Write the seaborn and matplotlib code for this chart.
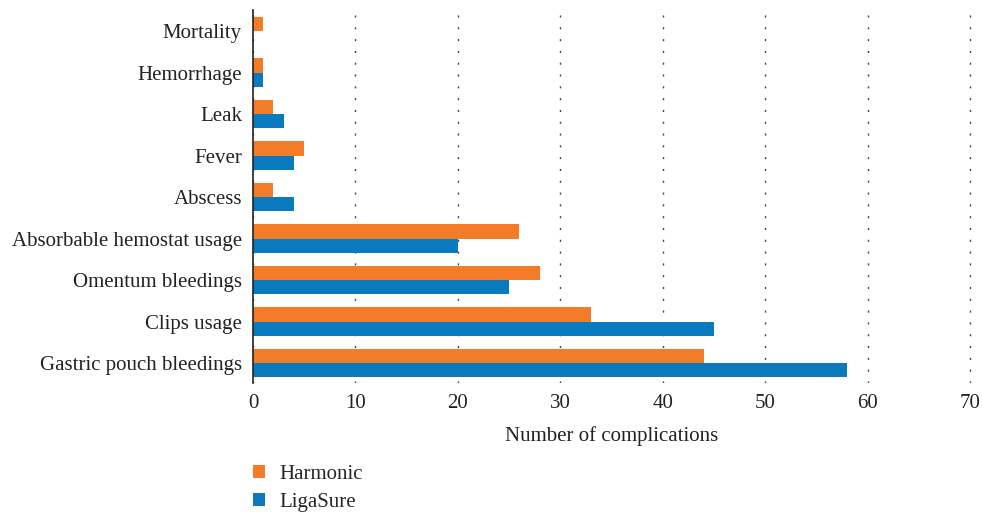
import pandas as pd
import seaborn as sns
import matplotlib.pyplot as plt
from matplotlib.patches import Patch

categories = ["Mortality", "Hemorrhage", "Leak", "Fever", "Abscess",
              "Absorbable hemostat usage", "Omentum bleedings",
              "Clips usage", "Gastric pouch bleedings"]
harmonic = [1, 1, 2, 5, 2, 26, 28, 33, 44]
ligasure = [0, 1, 3, 4, 4, 20, 25, 45, 58]
series = ["Harmonic", "LigaSure"]
colors = ["#F47B28", "#0A7ABF"]

df = pd.DataFrame({
    "category": categories * 2,
    "value": harmonic + ligasure,
    "group": [series[0]] * len(categories) + [series[1]] * len(categories),
})

sns.set_style("white")
plt.rcParams["font.family"] = ["Liberation Serif", "DejaVu Serif"]
fs = 15

fig = plt.figure(figsize=(9.82, 5.12), dpi=100)
ax = fig.add_axes([253 / 982, 1 - 383 / 512, (972 - 253) / 982, (383 - 10) / 512])

sns.barplot(data=df, y="category", x="value", hue="group", order=categories,
            hue_order=series, palette=colors, width=0.68, orient="h",
            saturation=1, linewidth=0, ax=ax, legend=False)

ax.set_xlim(0, 70.2)
ax.set_ylim(8.48, -0.506)
ax.set_xticks(range(0, 71, 10))
ax.xaxis.grid(True, color="#444444", linestyle=(0, (1.5, 7)), linewidth=1.0)
ax.set_axisbelow(True)
for side in ["top", "right", "bottom"]:
    ax.spines[side].set_visible(False)
ax.spines["left"].set_color("#222222")
ax.spines["left"].set_linewidth(1.2)
ax.tick_params(axis="x", length=2, width=0.8, color="#888888", labelsize=fs,
               labelcolor="#222222", pad=6)
ax.tick_params(axis="y", length=0, labelsize=fs, labelcolor="#222222", pad=8)
ax.set_ylabel("")
ax.set_xlabel("Number of complications", fontsize=fs, color="#222222")
ax.xaxis.set_label_coords((612 - 253) / (972 - 253), -0.115)

handles = [Patch(facecolor=c, edgecolor="none") for c in colors]
fig.legend(handles, series, loc="upper left", bbox_to_anchor=(238 / 982, 1 - 450 / 512),
           frameon=False, fontsize=fs, handlelength=0.6, handleheight=0.6,
           handletextpad=0.7, labelspacing=0.45, borderpad=0.2)

fig.savefig("out.png", dpi=100)
